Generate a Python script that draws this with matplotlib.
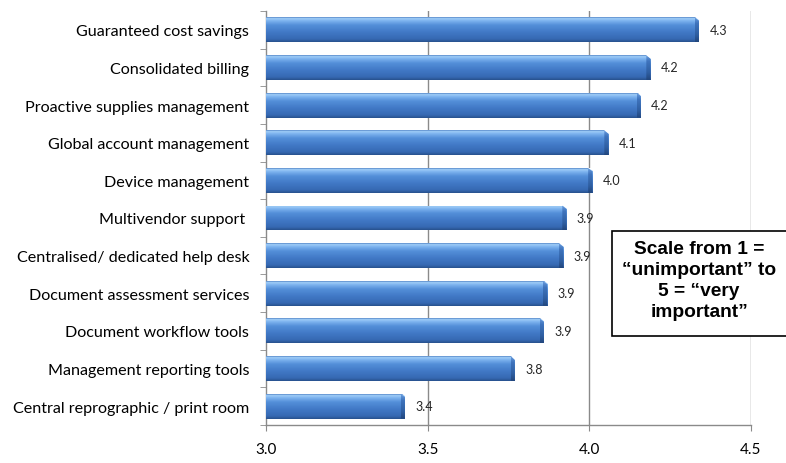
import numpy as np
import matplotlib
matplotlib.use("Agg")
import matplotlib.pyplot as plt
from matplotlib.colors import LinearSegmentedColormap
from matplotlib.patches import Polygon, Rectangle

categories = [
    "Guaranteed cost savings",
    "Consolidated billing",
    "Proactive supplies management",
    "Global account management",
    "Device management",
    "Multivendor support ",
    "Centralised/ dedicated help desk",
    "Document assessment services",
    "Document workflow tools",
    "Management reporting tools",
    "Central reprographic / print room",
]
scores = [4.34, 4.19, 4.16, 4.06, 4.01, 3.93, 3.92, 3.87, 3.86, 3.77, 3.43]
x_ticks = [3.0, 3.5, 4.0, 4.5]
note_text = "Scale from 1 =\n\u201cunimportant\u201d to\n5 = \u201cvery\nimportant\u201d"

W, H = 786, 464
fig = plt.figure(figsize=(W / 100, H / 100), dpi=100)
ax = fig.add_axes([266 / W, 38 / H, 484.7 / W, 414 / H])

x_min, x_max = 3.0, 4.5
grid_col = "#8a8a8a"

ypos = np.arange(len(categories))
bar_h = 0.66
bars = ax.barh(ypos, [s - x_min for s in scores], left=x_min, height=bar_h,
               color="#3d74c2", edgecolor="none", zorder=3)

# vertical shading of the bars (top highlight, darker lower edge)
shade = LinearSegmentedColormap.from_list("bar_shade", [
    (0.00, "#4a7cc0"),
    (0.05, "#a2cff8"),
    (0.15, "#7cb2ee"),
    (0.32, "#548fd9"),
    (0.60, "#4179c6"),
    (0.88, "#3669b3"),
    (1.00, "#27508c"),
])
end_shade = LinearSegmentedColormap.from_list("end_shade", [
    (0.00, "#6b9ee0"),
    (0.25, "#3f74bd"),
    (0.70, "#2f5fa2"),
    (1.00, "#22467c"),
])
grad = np.linspace(0, 1, 256).reshape(-1, 1)
d = 0.013
for rect, s, y in zip(bars, scores, ypos):
    top, bot = y - bar_h / 2, y + bar_h / 2
    im = ax.imshow(grad, cmap=shade, aspect="auto", interpolation="bilinear",
                   extent=(x_min, s, bot, top), origin="upper", zorder=4)
    im.set_clip_path(rect)
    # bevelled end face
    face = Polygon([(s - d, top), (s, top + 0.14 * bar_h), (s, bot), (s - d, bot)],
                   closed=True, facecolor="none", edgecolor="none", zorder=5)
    ax.add_patch(face)
    im2 = ax.imshow(grad, cmap=end_shade, aspect="auto", interpolation="bilinear",
                    extent=(s - d, s, bot, top), origin="upper", zorder=5)
    im2.set_clip_path(face)
    # cut corner above the bevel
    ax.add_patch(Polygon([(s - d, top - 0.01), (s + 0.002, top - 0.01),
                          (s + 0.002, top + 0.14 * bar_h)],
                         closed=True, facecolor="white", edgecolor="none", zorder=6))
    ax.text(s + 0.032, y, f"{s:.1f}", va="center", ha="left",
            fontsize=9, family="Lato", color="#262626", zorder=7)

ax.set_xlim(x_min, x_max)
ax.set_ylim(len(categories) - 0.5, -0.5)

ax.set_xticks(x_ticks)
ax.set_xticklabels([f"{t:.1f}" for t in x_ticks], family="Lato", fontsize=11)
for t in x_ticks[1:]:
    ax.axvline(t, color=grid_col, lw=1.0, zorder=1)

ax.set_yticks(ypos)
ax.set_yticklabels(categories, family="Lato", fontsize=11.6)
ax.set_yticks(np.arange(len(categories) + 1) - 0.5, minor=True)
ax.tick_params(axis="y", which="major", length=0, pad=12)
ax.tick_params(axis="y", which="minor", length=4, color=grid_col, direction="out")
ax.tick_params(axis="x", which="major", length=4, color=grid_col, direction="out", pad=8)

for side in ("top", "right"):
    ax.spines[side].set_visible(False)
for side in ("left", "bottom"):
    ax.spines[side].set_color(grid_col)
    ax.spines[side].set_linewidth(1.0)

# note box with the rating scale
fig.add_artist(Rectangle((612 / W, 1 - 337 / H), 180 / W, 105 / H,
                         transform=fig.transFigure, facecolor="white",
                         edgecolor="black", linewidth=1.2, zorder=9))
fig.text(699 / W, 1 - 281 / H, note_text, ha="center", va="center",
         fontsize=13.8, fontweight="bold", family="Liberation Sans",
         linespacing=1.3, zorder=10)

fig.savefig("out.png", dpi=100)
